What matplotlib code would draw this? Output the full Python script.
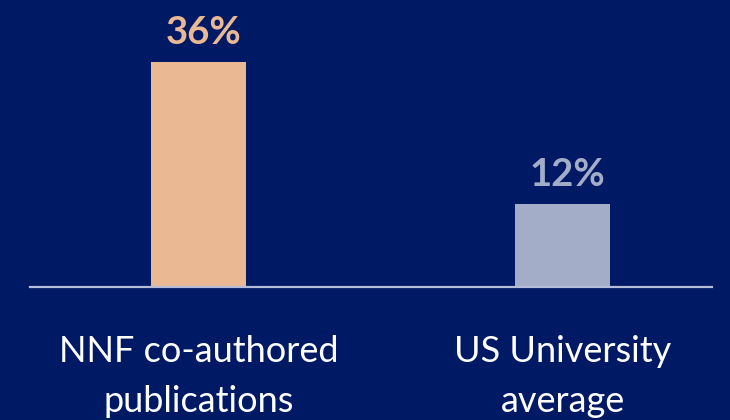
import matplotlib
matplotlib.use("Agg")
import matplotlib.pyplot as plt
import matplotlib.transforms as mtransforms

# Datos
categorias = ["NNF co-authored\npublications", "US University\naverage"]
valores = [36, 13.3]
etiquetas = ["36%", "12%"]

fondo = "#001965"
colores_barras = ["#EBB894", "#A3ADC8"]
colores_texto = ["#EBB894", "#A3ADC8"]

fig = plt.figure(figsize=(7.3, 4.2), dpi=100, facecolor=fondo)
# eje: de x=30 a 712 px, base en y=287 px
ax = fig.add_axes([30 / 730, 133 / 420, 682 / 730, 287 / 420])
ax.set_facecolor(fondo)

x = list(range(len(categorias)))
ax.bar(x, valores, width=0.26, color=colores_barras, zorder=2)
ax.set_xlim(-0.4635, 1.4100)
ax.set_ylim(0, 45.92)

for s in ["top", "right", "left"]:
    ax.spines[s].set_visible(False)
ax.spines["bottom"].set_color("#B4BCD8")
ax.spines["bottom"].set_linewidth(1.6)
ax.set_xticks([])
ax.set_yticks([])

# porcentajes sobre las barras
for xi, v, txt, c in zip(x, valores, etiquetas, colores_texto):
    ax.annotate(txt, (xi, v), xytext=(3.5, 13), textcoords="offset points",
                ha="center", va="baseline", fontsize=27.5, fontweight="bold",
                family="Lato", color=c)

# nombres de categorias (va=baseline se ancla a la ultima linea)
trans = mtransforms.blended_transform_factory(ax.transData, ax.transAxes)
for xi, cat in zip(x, categorias):
    ax.text(xi, -0.4355, cat, transform=trans, ha="center", va="baseline",
            fontsize=26, family="Lato", color="white", linespacing=1.63,
            multialignment="center", clip_on=False)

fig.savefig("out.png", dpi=100, facecolor=fondo)
